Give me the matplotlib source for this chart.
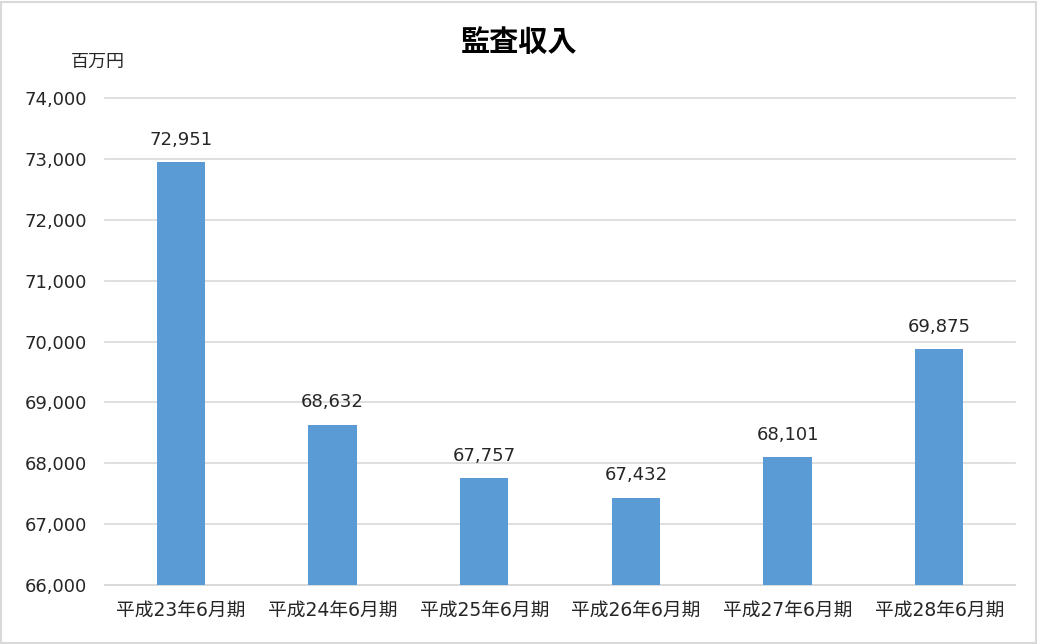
import matplotlib
matplotlib.use("Agg")
import matplotlib.pyplot as plt
from matplotlib.patches import Rectangle

plt.rcParams['font.family'] = ['DejaVu Sans', 'Noto Sans CJK JP']

periods = ['平成23年6月期', '平成24年6月期', '平成25年6月期',
           '平成26年6月期', '平成27年6月期', '平成28年6月期']
revenue = [72951, 68632, 67757, 67432, 68101, 69875]
yticks = [66000, 67000, 68000, 69000, 70000, 71000, 72000, 73000, 74000]

fig = plt.figure(figsize=(10.38, 6.44), dpi=100)
ax = fig.add_axes([0.1012, 0.0916, 0.8767, 0.7562])

x = range(len(periods))
ax.bar(x, revenue, width=0.32, color='#5B9BD5', zorder=3)
for xi, v in zip(x, revenue):
    ax.annotate(f'{v:,}', (xi, v), xytext=(0, 12.5), textcoords='offset points',
                ha='center', va='baseline', fontsize=13, color='#262626')

ax.set_ylim(66000, 74000)
ax.set_xlim(-0.5, len(periods) - 0.5)
ax.set_yticks(yticks)
ax.set_yticklabels([f'{t:,}' for t in yticks], fontsize=13, color='#262626')
ax.set_xticks(list(x))
ax.set_xticklabels(periods, fontsize=13.5, color='#262626')
ax.grid(axis='y', color='#D9D9D9', linewidth=1.2, zorder=0)
for gl in ax.get_ygridlines():
    gl.set_clip_on(False)
ax.tick_params(axis='y', length=0, pad=13)
ax.tick_params(axis='x', length=0, pad=11)
for s in ['top', 'right', 'left']:
    ax.spines[s].set_visible(False)
ax.spines['bottom'].set_color('#D9D9D9')
ax.spines['bottom'].set_linewidth(1.2)

fig.text(0.5, 0.933, '監査収入', ha='center', va='center',
         fontsize=21, fontweight='bold', color='#000000')
fig.text(0.094, 0.904, '百万円', ha='center', va='center',
         fontsize=13, color='#262626')

fig.patches.append(Rectangle((0.001, 0.002), 0.997, 0.995,
                             transform=fig.transFigure, fill=False,
                             edgecolor='#D9D9D9', linewidth=1.5))

fig.savefig('out.png', dpi=100)
